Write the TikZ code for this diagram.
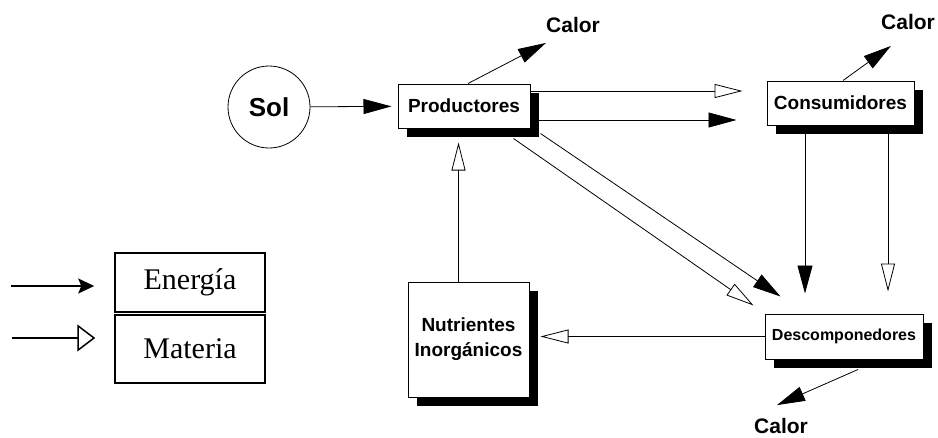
\documentclass[tikz,border=0pt]{standalone}
\usepackage{fontspec}
\newfontfamily\arialfont{Liberation Sans}
\newfontfamily\timesfont{Liberation Serif}
\usetikzlibrary{arrows.meta,shadows}

\begin{document}
\begin{tikzpicture}[x=1pt,y=-1pt,
  caja/.style={draw,fill=white,line width=1pt,inner sep=0pt,
    drop shadow={fill=black,opacity=1,shadow xshift=9pt,shadow yshift=-9pt},
    font=\arialfont\bfseries\fontsize{19}{25}\selectfont},
  leyenda/.style={draw,line width=1.5pt,minimum width=150pt,inner sep=0pt,
    font=\timesfont\fontsize{30}{34}\selectfont},
  calor/.style={inner sep=0pt,font=\arialfont\bfseries\fontsize{21}{24}\selectfont},
  energia/.style={line width=0.8pt,-{Triangle[length=28pt,width=15pt]}},
  materia/.style={line width=0.8pt,-{Triangle[open,length=28pt,width=14pt]}}]
\useasboundingbox (0,0) rectangle (938,437);
\node[circle,draw,line width=0.8pt,minimum size=82pt,inner sep=0pt,
  font=\arialfont\bfseries\fontsize{26}{30}\selectfont] (sol) at (269,107) {Sol};
\node[caja,minimum width=132pt,minimum height=44pt] (productores) at (464,106) {Productores};
\node[caja,minimum width=147pt,minimum height=44pt] (consumidores) at (840.5,103) {Consumidores};
\node[caja,minimum width=158pt,minimum height=45pt,
  font=\arialfont\bfseries\fontsize{16}{20}\selectfont] (descomponedores) at (844,336.5) {Descomponedores};
\node[caja,minimum width=121pt,minimum height=115pt,align=center] (nutrientes) at (468.5,339.5) {Nutrientes\\Inorgánicos};
\node[calor] (calorP) at (573,25) {Calor};
\node[calor] (calorC) at (908,22) {Calor};
\node[calor] (calorD) at (781,426) {Calor};
\node[leyenda,minimum height=59pt] (leyendaE) at (190,282.5) {Energía};
\node[leyenda,minimum height=68pt] (leyendaM) at (190,349) {Materia};
\coordinate (inicioE) at (11,286);
\coordinate (inicioM) at (12,338);
\draw[line width=1.5pt,-{Stealth[length=16pt,width=15pt,inset=3pt]},shorten >=20pt] (inicioE) -- (inicioE -| leyendaE.west);
\draw[line width=1.5pt,-{Triangle[open,length=18pt,width=27pt]},shorten >=19pt] (inicioM) -- (inicioM -| leyendaM.west);
\draw[energia,shorten >=6pt] (sol) -- (productores);
\draw[energia] ([xshift=4pt]productores.north) -- ([yshift=-10pt]calorP.south west);
\draw[materia,shorten >=24pt] ([yshift=15pt]productores.east) -- ([yshift=15pt]productores.east -| consumidores.west);
\draw[energia,shorten >=30pt] ([yshift=-14pt]productores.east) -- ([yshift=-14pt]productores.east -| consumidores.west);
\draw[energia] ([xshift=10pt,yshift=-5pt]productores.south east) -- ([xshift=16pt,yshift=17pt]descomponedores.north west);
\draw[materia] ([xshift=-17pt,yshift=-10pt]productores.south east) -- ([xshift=-11pt,yshift=8pt]descomponedores.north west);
\draw[energia] ([xshift=2.5pt]consumidores.north) -- ([xshift=10pt,yshift=-16pt]calorC.south west);
\draw[energia,shorten >=20pt] ([xshift=-35.5pt]consumidores.south) -- ([xshift=-35.5pt]consumidores.south |- descomponedores.north);
\draw[materia,shorten >=22pt] ([xshift=47.5pt]consumidores.south) -- ([xshift=47.5pt]consumidores.south |- descomponedores.north);
\draw[materia,shorten >=11pt] (descomponedores.west) -- (descomponedores.west -| nutrientes.east);
\draw[materia,shorten >=14pt] ([xshift=-10pt]nutrientes.north) -- ([xshift=-10pt]nutrientes.north |- productores.south);
\draw[energia] ([xshift=14pt,yshift=-10pt]descomponedores.south) -- ([xshift=-4pt,yshift=13pt]calorD.north);
\end{tikzpicture}
\end{document}
